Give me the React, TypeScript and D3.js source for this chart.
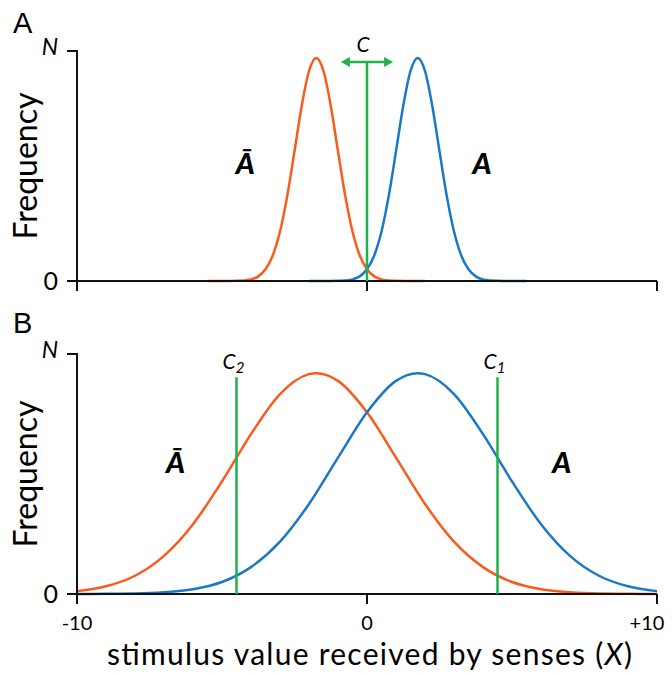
import * as d3 from "d3";

// x ticks shared by both panels
const xTicks = [-10, 0, 10];
const xTickLabels = ["-10", "0", "+10"];

// panel A: narrow distributions (frequency as fraction of N)
const orangeAX = [-5.5, -5.0, -4.5, -4.0, -3.75, -3.5, -3.25, -3.0, -2.75, -2.5, -2.25, -2.0, -1.75, -1.5, -1.25, -1.0, -0.75, -0.5, -0.25, 0, 0.25, 0.5, 0.75, 1.0, 1.5, 2.0];
const orangeAY = [0, 0, 0.001, 0.007, 0.02, 0.051, 0.111, 0.215, 0.37, 0.564, 0.762, 0.913, 0.97, 0.913, 0.762, 0.564, 0.37, 0.215, 0.111, 0.051, 0.02, 0.007, 0.002, 0.001, 0, 0];
const blueAX = [-2.0, -1.5, -1.0, -0.75, -0.5, -0.25, 0, 0.25, 0.5, 0.75, 1.0, 1.25, 1.5, 1.75, 2.0, 2.25, 2.5, 2.75, 3.0, 3.25, 3.5, 3.75, 4.0, 4.5, 5.0, 5.5];
const blueAY = [0, 0, 0.001, 0.002, 0.007, 0.02, 0.051, 0.111, 0.215, 0.37, 0.564, 0.762, 0.913, 0.97, 0.913, 0.762, 0.564, 0.37, 0.215, 0.111, 0.051, 0.02, 0.007, 0.001, 0, 0];

// panel B: wide distributions
const orangeBX = [-10, -9, -8, -7, -6, -5, -4, -3, -2, -1.75, -1, 0, 1, 2, 3, 4, 5, 6, 7, 8, 9, 10];
const orangeBY = [0.012, 0.032, 0.076, 0.159, 0.291, 0.469, 0.666, 0.833, 0.916, 0.92, 0.888, 0.757, 0.568, 0.375, 0.218, 0.112, 0.05, 0.02, 0.007, 0.002, 0.001, 0];
const blueBX = [-10, -9, -8, -7, -6, -5, -4, -3, -2, -1, 0, 1, 1.75, 2, 3, 4, 5, 6, 7, 8, 9, 10];
const blueBY = [0, 0.001, 0.002, 0.007, 0.02, 0.05, 0.112, 0.218, 0.375, 0.568, 0.757, 0.888, 0.92, 0.916, 0.833, 0.666, 0.469, 0.291, 0.159, 0.076, 0.032, 0.012];

// criteria
const criterionA = 0;
const arrowA = [-0.9, 0.9];
const criteriaB = [-4.5, 4.5];
const criteriaBLabels = ["2", "1"];

const ORANGE = "#fb5a1d";
const BLUE = "#1a78c6";
const GREEN = "#1fb24a";
const FONT = "Lato, 'Open Sans', sans-serif";

const X0 = 77;
const X1 = 657;
const x = d3.scaleLinear().domain([-10, 10]).range([X0, X1]);

type Panel = {
  letter: string;
  letterY: number;
  top: number;
  base: number;
  peak: number;
  series: { xs: number[]; ys: number[]; color: string }[];
  labelY: number;
  barLeft: number;
  aRight: number;
};

const panels: Panel[] = [
  {
    letter: "A",
    letterY: 33,
    top: 51,
    base: 281,
    peak: 0.97,
    series: [
      { xs: orangeAX, ys: orangeAY, color: ORANGE },
      { xs: blueAX, ys: blueAY, color: BLUE },
    ],
    labelY: 174,
    barLeft: -4.2,
    aRight: 3.97,
  },
  {
    letter: "B",
    letterY: 333,
    top: 354,
    base: 594,
    peak: 0.92,
    series: [
      { xs: orangeBX, ys: orangeBY, color: ORANGE },
      { xs: blueBX, ys: blueBY, color: BLUE },
    ],
    labelY: 473,
    barLeft: -6.6,
    aRight: 6.72,
  },
];

function PanelView({ p, index }: { p: Panel; index: number }) {
  const y = d3.scaleLinear().domain([0, 1]).range([p.base, p.top]);
  const line = d3
    .line<[number, number]>()
    .x((d) => x(d[0]))
    .y((d) => y(d[1]))
    .curve(d3.curveMonotoneX);

  return (
    <g>
      <text x={13} y={p.letterY} fontFamily="'Liberation Sans', Arial, sans-serif" fontSize={29}>
        {p.letter}
      </text>
      <text
        transform={`translate(37,${(p.top + p.base) / 2}) rotate(-90)`}
        textAnchor="middle"
        fontFamily={FONT}
        fontSize={32}
      >
        Frequency
      </text>
      <text x={58} y={p.top + 4} textAnchor="end" fontFamily={FONT} fontStyle="italic" fontSize={23}>
        N
      </text>
      <text x={58} y={p.base + 9} textAnchor="end" fontFamily={FONT} fontSize={25}>
        0
      </text>

      {p.series.map((s, i) => (
        <path
          key={i}
          d={line(s.xs.map((v, j) => [v, s.ys[j]] as [number, number])) ?? ""}
          fill="none"
          stroke={s.color}
          strokeWidth={2.5}
        />
      ))}

      {/* axes */}
      <path
        d={`M${X0 - 10},${y(1)}H${X0}V${p.base + 10}M${X0 - 10},${p.base}H${X1}`}
        fill="none"
        stroke="#111"
        strokeWidth={2}
      />
      {xTicks.slice(1).map((t) => (
        <line key={t} x1={x(t)} x2={x(t)} y1={p.base} y2={p.base + 10} stroke="#111" strokeWidth={2} />
      ))}

      {index === 0 ? (
        <g>
          <line x1={x(criterionA)} x2={x(criterionA)} y1={p.base} y2={62} stroke={GREEN} strokeWidth={2.5} />
          <line x1={x(arrowA[0]) + 6} x2={x(arrowA[1]) - 6} y1={62} y2={62} stroke={GREEN} strokeWidth={2.5} />
          <path d={`M${x(arrowA[0])},62l9,-5v10z M${x(arrowA[1])},62l-9,-5v10z`} fill={GREEN} />
          <text x={x(criterionA) - 4} y={52} textAnchor="middle" fontFamily={FONT} fontStyle="italic" fontSize={21}>
            C
          </text>
        </g>
      ) : (
        criteriaB.map((c, i) => (
          <g key={c}>
            <line x1={x(c)} x2={x(c)} y1={p.base} y2={y(p.peak) + 4} stroke={GREEN} strokeWidth={2.5} />
            <text x={x(c) - 3} y={369} textAnchor="middle" fontFamily={FONT} fontStyle="italic" fontSize={21}>
              C<tspan fontSize={15} dy={4}>{criteriaBLabels[i]}</tspan>
            </text>
          </g>
        ))
      )}

      <text x={x(p.barLeft)} y={p.labelY} textAnchor="middle" fontFamily={FONT} fontStyle="italic" fontWeight={900} fontSize={29}>
        Ā
      </text>
      <text x={x(p.aRight)} y={p.labelY} textAnchor="middle" fontFamily={FONT} fontStyle="italic" fontWeight={900} fontSize={29}>
        A
      </text>
    </g>
  );
}

export default function App() {
  const bottom = panels[1].base;
  return (
    <svg width={672} height={673} style={{ position: "absolute", left: 0, top: 0, background: "#fff" }}>
      {panels.map((p, i) => (
        <PanelView key={p.letter} p={p} index={i} />
      ))}
      {xTicks.map((t, i) => (
        <text
          key={t}
          x={i === 2 ? x(t) - 10 : x(t)}
          y={bottom + 36}
          textAnchor="middle"
          fontFamily={FONT}
          fontSize={20}
        >
          {xTickLabels[i]}
        </text>
      ))}
      <text
        x={107}
        y={665}
        textLength={525}
        lengthAdjust="spacing"
        fontFamily={FONT}
        fontSize={30}
      >
        stimulus value received by senses (<tspan fontStyle="italic">X</tspan>)
      </text>
    </svg>
  );
}
